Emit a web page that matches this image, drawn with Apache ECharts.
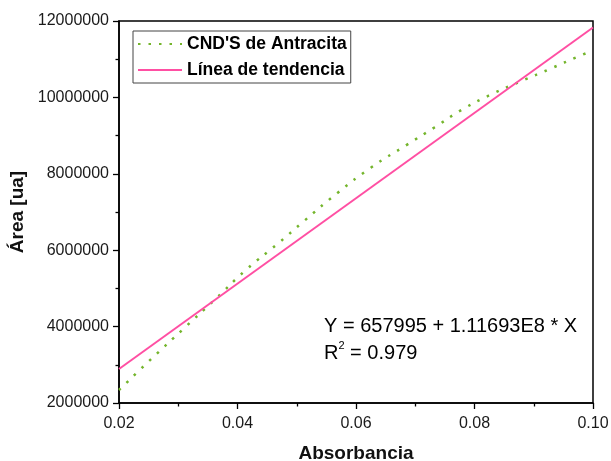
<!DOCTYPE html>
<html>
<head>
<meta charset="utf-8">
<script src="https://cdn.jsdelivr.net/npm/echarts@6/dist/echarts.min.js"></script>
<style>html,body{margin:0;padding:0;background:#fff;}#c{width:611px;height:461px;}</style>
</head>
<body>
<div id="c"></div>
<script>
// Data
var curveX = [0.0200, 0.0255, 0.0308, 0.0362, 0.0414, 0.0471, 0.0512, 0.0568, 0.0625, 0.0687, 0.0733, 0.0779, 0.0827, 0.0878, 0.0928, 0.0978, 0.1000];
var curveY = [2340000, 3160000, 3930000, 4710000, 5480000, 6210000, 6760000, 7490000, 8160000, 8770000, 9220000, 9680000, 10070000, 10420000, 10750000, 11090000, 11220000];
var trendX = [0.02, 0.10];
var trendY = [2890000, 11830000];
var seriesNames = ["CND'S de Antracita", "Línea de tendencia"];
var xTicks = [0.02, 0.04, 0.06, 0.08, 0.10];
var yTicks = [2000000, 4000000, 6000000, 8000000, 10000000, 12000000];
var equationText = "Y = 657995 + 1.11693E8 * X";
var r2Value = "0.979";

function pairs(xs, ys) { return xs.map(function (x, i) { return [x, ys[i]]; }); }

var chart = echarts.init(document.getElementById('c'), null, { renderer: 'canvas' });
var axisCommon = {
  axisLine: { show: true, onZero: false, lineStyle: { color: '#000', width: 1.5 } },
  axisTick: { show: true, inside: false, length: 6, lineStyle: { color: '#000', width: 1.3 } },
  minorTick: { show: true, splitNumber: 2, length: 3.5, lineStyle: { color: '#000', width: 1.3 } },
  splitLine: { show: false },
  nameTextStyle: { fontFamily: 'Liberation Sans, Arial', fontWeight: 'bold', fontSize: 19, color: '#111' }
};
chart.setOption({
  animation: false,
  backgroundColor: '#fff',
  grid: { left: 119, right: 18, top: 21, bottom: 58, show: true, borderColor: '#000', borderWidth: 1.5,
    containLabel: false, outerBoundsMode: 'none' },
  xAxis: Object.assign({}, axisCommon, {
    type: 'value', min: xTicks[0], max: xTicks[xTicks.length - 1], interval: 0.02,
    name: 'Absorbancia', nameLocation: 'middle', nameGap: 41,
    axisLabel: { margin: 13, fontFamily: 'Liberation Sans, Arial', fontSize: 16, color: '#1a1a1a',
      showMinLabel: true, showMaxLabel: true, formatter: function (v) { return v.toFixed(2); } }
  }),
  yAxis: Object.assign({}, axisCommon, {
    type: 'value', min: yTicks[0], max: yTicks[yTicks.length - 1], interval: 2000000,
    name: 'Área [ua]', nameLocation: 'middle', nameGap: 90,
    axisLabel: { margin: 10, fontFamily: 'Liberation Sans, Arial', fontSize: 16, color: '#1a1a1a',
      formatter: function (v) { return String(Math.round(v)); } }
  }),
  legend: {
    orient: 'vertical', left: 133, top: 31,
    itemWidth: 44, itemHeight: 14, itemGap: 6,
    padding: [3, 4, 3, 4],
    borderColor: '#444', borderWidth: 1, backgroundColor: '#fff',
    itemStyle: { opacity: 0 },
    textStyle: { fontFamily: 'Liberation Sans, Arial', fontWeight: 'bold', fontSize: 17.5, color: '#000', lineHeight: 20 },
    data: seriesNames
  },
  series: [
    {
      name: seriesNames[0], type: 'line', smooth: true, symbol: 'none',
      data: pairs(curveX, curveY),
      lineStyle: { color: '#74b52c', width: 2.5, type: [2.5, 8], cap: 'butt' },
      itemStyle: { color: '#74b52c' }, z: 2
    },
    {
      name: seriesNames[1], type: 'line', symbol: 'none',
      data: pairs(trendX, trendY),
      lineStyle: { color: '#ff4fa3', width: 2 },
      itemStyle: { color: '#ff4fa3' }, z: 3
    }
  ],
  graphic: [
    { type: 'text', left: 324, top: 316, style: { text: equationText, font: '20px "Liberation Sans", Arial', fill: '#000' } },
    { type: 'text', left: 324, top: 340, style: {
        text: '{a|R}{s|2}{a| = ' + r2Value + '}',
        rich: {
          a: { font: '20px "Liberation Sans", Arial', fill: '#000', verticalAlign: 'bottom', lineHeight: 23 },
          s: { font: '11px "Liberation Sans", Arial', fill: '#000', verticalAlign: 'top', lineHeight: 23 }
        }
      } }
  ]
});
</script>
</body>
</html>
